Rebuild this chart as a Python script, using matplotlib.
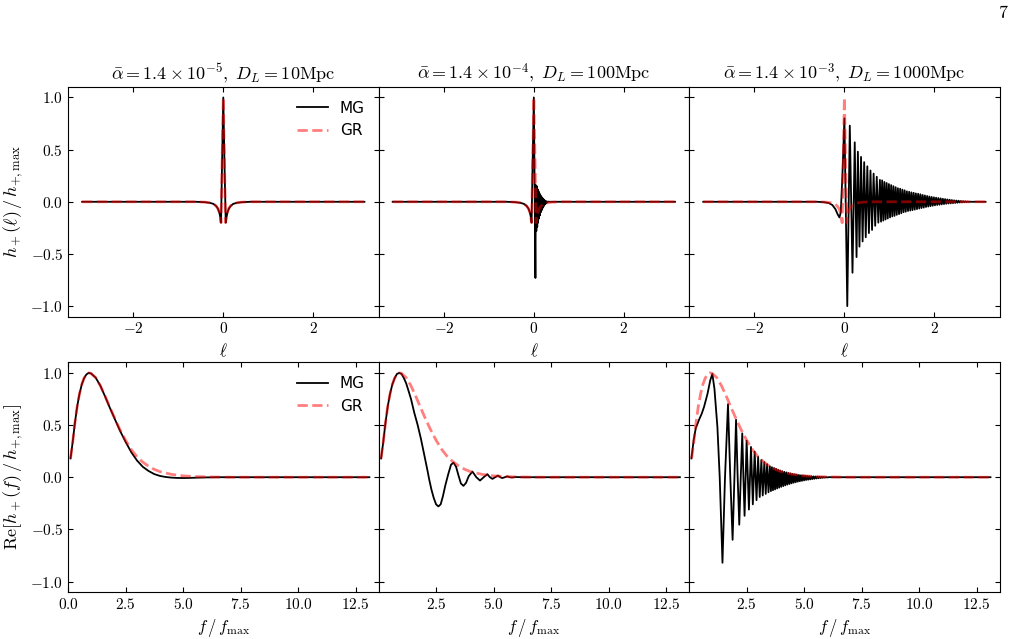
"""
MG vs GR waveforms -- time domain (top) and frequency domain (bottom)
"""

import numpy as np
import matplotlib
matplotlib.use("Agg")
import matplotlib.pyplot as plt
import matplotlib.ticker as mticker

plt.rcParams["mathtext.fontset"] = "cm"

# ── data ─────────────────────────────────────────────────────────────────────
titles = [r"$\bar{\alpha}=1.4\times10^{-5},\ D_L=10\mathrm{Mpc}$",
          r"$\bar{\alpha}=1.4\times10^{-4},\ D_L=100\mathrm{Mpc}$",
          r"$\bar{\alpha}=1.4\times10^{-3},\ D_L=1000\mathrm{Mpc}$"]

# top row: (ell, h/hmax)
gr_top = [(-3.14, 0), (-0.6, 0), (-0.4, -0.004), (-0.3, -0.01), (-0.22, -0.02),
          (-0.16, -0.04), (-0.12, -0.065), (-0.09, -0.1), (-0.07, -0.14),
          (-0.05, -0.2), (-0.03, 0.3), (0.0, 1.0), (0.03, 0.3), (0.05, -0.2),
          (0.07, -0.14), (0.09, -0.1), (0.12, -0.065), (0.16, -0.04),
          (0.22, -0.02), (0.3, -0.01), (0.4, -0.004), (0.6, 0), (3.14, 0)]

mg_top_1 = [(-3.14, 0), (-0.6, 0), (-0.4, -0.004), (-0.3, -0.01), (-0.22, -0.02),
            (-0.16, -0.04), (-0.12, -0.065), (-0.09, -0.1), (-0.07, -0.14),
            (-0.05, -0.2), (-0.03, 0.3), (0.0, 1.0), (0.03, 0.3), (0.055, -0.2),
            (0.075, -0.14), (0.095, -0.1), (0.125, -0.065), (0.165, -0.04),
            (0.22, -0.02), (0.3, -0.01), (0.4, -0.004), (0.6, 0), (3.14, 0)]

mg_top_2 = [(-3.14, 0), (-0.6, 0), (-0.4, -0.004), (-0.3, -0.01), (-0.22, -0.02),
            (-0.16, -0.04), (-0.12, -0.065), (-0.09, -0.1), (-0.07, -0.14),
            (-0.05, -0.2), (-0.03, 0.3), (0.0, 1.0), (0.035, -0.73), (0.045, 0.16),
            (0.055, -0.28), (0.065, 0.15), (0.075, -0.24), (0.085, 0.12),
            (0.095, -0.2), (0.105, 0.1), (0.115, -0.16), (0.125, 0.08),
            (0.135, -0.13), (0.145, 0.065), (0.155, -0.1), (0.165, 0.05),
            (0.175, -0.08), (0.185, 0.04), (0.195, -0.06), (0.205, 0.03),
            (0.215, -0.045), (0.225, 0.02), (0.235, -0.03), (0.245, 0.012),
            (0.26, -0.018), (0.275, 0.006), (0.29, -0.008), (0.31, 0.002),
            (0.35, 0), (3.14, 0)]

mg_top_3 = [(-3.14, 0), (-0.6, 0), (-0.45, -0.004), (-0.35, -0.012), (-0.27, -0.03),
            (-0.2, -0.07), (-0.15, -0.12), (-0.11, -0.15), (-0.08, -0.1),
            (-0.04, 0.3), (0.0, 0.8), (0.064, -1.0), (0.12, 0.73), (0.18, -0.68),
            (0.23, 0.57), (0.27, -0.53), (0.30, 0.48), (0.335, -0.43), (0.37, 0.43),
            (0.405, -0.38), (0.44, 0.38), (0.475, -0.34), (0.51, 0.34), (0.545, -0.30),
            (0.58, 0.30), (0.615, -0.27), (0.65, 0.27), (0.685, -0.23), (0.72, 0.24),
            (0.755, -0.2), (0.79, 0.21), (0.815, -0.19), (0.84, 0.205), (0.865, -0.18),
            (0.89, 0.19), (0.915, -0.17), (0.94, 0.18), (0.965, -0.16), (0.99, 0.17),
            (1.015, -0.15), (1.04, 0.16), (1.065, -0.14), (1.09, 0.15), (1.115, -0.135),
            (1.14, 0.14), (1.165, -0.125), (1.19, 0.13), (1.215, -0.118), (1.24, 0.125),
            (1.265, -0.11), (1.29, 0.117), (1.315, -0.1), (1.34, 0.11), (1.365, -0.095),
            (1.39, 0.1), (1.415, -0.088), (1.44, 0.096), (1.465, -0.084), (1.49, 0.09),
            (1.515, -0.08), (1.54, 0.086), (1.565, -0.075), (1.59, 0.08), (1.615, -0.07),
            (1.64, 0.077), (1.665, -0.065), (1.69, 0.072), (1.715, -0.06), (1.74, 0.066),
            (1.765, -0.056), (1.79, 0.061), (1.815, -0.05), (1.84, 0.056), (1.865, -0.046),
            (1.89, 0.051), (1.915, -0.042), (1.94, 0.047), (1.965, -0.038), (1.99, 0.043),
            (2.015, -0.034), (2.04, 0.04), (2.065, -0.031), (2.09, 0.036), (2.115, -0.028),
            (2.14, 0.033), (2.165, -0.025), (2.19, 0.029), (2.215, -0.022), (2.24, 0.026),
            (2.265, -0.019), (2.29, 0.023), (2.315, -0.017), (2.34, 0.02), (2.365, -0.015),
            (2.39, 0.017), (2.415, -0.013), (2.44, 0.014), (2.465, -0.011), (2.49, 0.012),
            (2.515, -0.009), (2.54, 0.01), (2.565, -0.007), (2.59, 0.008), (2.615, -0.006),
            (2.64, 0.006), (2.665, -0.004), (2.69, 0.004), (2.715, -0.003), (2.74, 0.002),
            (2.765, -0.001), (2.8, 0), (3.14, 0)]

# bottom row: (f/fmax, Re[h/hmax])
gr_bot = [(0.11, 0.18), (0.2, 0.33), (0.3, 0.52), (0.4, 0.68), (0.5, 0.8),
          (0.6, 0.89), (0.7, 0.95), (0.8, 0.985), (0.9, 1.0), (1.0, 0.995),
          (1.2, 0.955), (1.4, 0.88), (1.6, 0.785), (1.8, 0.68), (2.0, 0.58),
          (2.25, 0.46), (2.5, 0.355), (2.75, 0.265), (3.0, 0.195), (3.25, 0.145),
          (3.5, 0.105), (3.75, 0.075), (4.0, 0.053), (4.5, 0.027), (5.0, 0.013),
          (5.5, 0.006), (6.0, 0.003), (6.5, 0.001), (7.0, 0.0), (13.1, 0.0)]

mg_bot_1 = [(0.11, 0.18), (0.2, 0.33), (0.3, 0.52), (0.4, 0.68), (0.5, 0.8),
            (0.6, 0.89), (0.7, 0.95), (0.8, 0.985), (0.9, 1.0), (1.0, 0.995),
            (1.2, 0.955), (1.4, 0.88), (1.6, 0.78), (1.8, 0.675), (2.0, 0.575),
            (2.25, 0.45), (2.5, 0.34), (2.75, 0.24), (3.0, 0.16), (3.25, 0.1),
            (3.5, 0.06), (3.75, 0.03), (4.0, 0.012), (4.25, 0.002), (4.5, -0.004),
            (4.75, -0.007), (5.0, -0.008), (5.25, -0.007), (5.5, -0.005),
            (6.0, -0.002), (6.5, 0), (13.1, 0)]

mg_bot_2 = [(0.11, 0.18), (0.2, 0.33), (0.3, 0.52), (0.4, 0.68), (0.5, 0.8),
            (0.6, 0.89), (0.7, 0.95), (0.8, 0.99), (0.9, 1.0), (1.0, 0.99),
            (1.1, 0.95), (1.2, 0.9), (1.3, 0.83), (1.41, 0.75), (1.55, 0.62),
            (1.7, 0.5), (1.84, 0.37), (2.0, 0.2), (2.13, 0.06), (2.2, -0.02),
            (2.3, -0.12), (2.4, -0.2), (2.5, -0.26), (2.6, -0.28), (2.7, -0.26),
            (2.8, -0.18), (2.9, -0.08), (3.03, 0.03), (3.15, 0.12), (3.26, 0.14),
            (3.37, 0.1), (3.47, 0.02), (3.58, -0.06), (3.69, -0.083), (3.8, -0.055),
            (3.92, 0.01), (4.08, 0.054), (4.25, 0.0), (4.41, -0.032), (4.57, 0.0),
            (4.73, 0.029), (4.84, 0.0), (4.95, -0.016), (5.07, 0.0), (5.19, 0.016),
            (5.29, 0.0), (5.38, -0.008), (5.49, 0.0), (5.6, 0.008), (5.7, 0.0),
            (5.8, -0.003), (5.95, 0.002), (6.2, 0.0), (13.1, 0)]

mg_bot_3 = [(0.1, 0.18), (0.2, 0.36), (0.29, 0.47), (0.43, 0.55), (0.55, 0.61),
            (0.65, 0.675), (0.8, 0.8), (0.92, 0.93), (1.01, 0.99), (1.1, 0.85),
            (1.23, 0.48), (1.33, 0.0), (1.45, -0.82), (1.56, 0.0), (1.69, 0.7),
            (1.79, 0.0), (1.89, -0.6), (1.97, 0.0), (2.04, 0.55), (2.11, 0.0),
            (2.18, -0.455), (2.245, 0.0), (2.31, 0.42), (2.36, 0.0), (2.41, -0.37),
            (2.5, 0.35), (2.6, -0.31), (2.69, 0.29), (2.77, -0.26), (2.85, 0.245),
            (2.93, -0.22), (3.0, 0.195), (3.07, -0.19), (3.14, 0.165), (3.2, -0.175),
            (3.27, 0.145), (3.33, -0.16), (3.39, 0.125), (3.45, -0.145), (3.51, 0.105),
            (3.555, -0.133), (3.6, 0.096), (3.645, -0.125), (3.69, 0.088),
            (3.735, -0.117), (3.78, 0.08), (3.825, -0.108), (3.87, 0.072),
            (3.915, -0.1), (3.96, 0.064), (4.005, -0.092), (4.05, 0.057),
            (4.095, -0.085), (4.14, 0.051), (4.185, -0.078), (4.23, 0.046),
            (4.275, -0.071), (4.32, 0.041), (4.365, -0.065), (4.41, 0.036),
            (4.455, -0.059), (4.5, 0.032), (4.545, -0.053), (4.59, 0.028),
            (4.635, -0.048), (4.68, 0.025), (4.725, -0.043), (4.77, 0.022),
            (4.815, -0.039), (4.86, 0.019), (4.905, -0.035), (4.95, 0.017),
            (4.995, -0.031), (5.04, 0.015), (5.085, -0.027), (5.13, 0.013),
            (5.175, -0.024), (5.22, 0.011), (5.265, -0.021), (5.31, 0.009),
            (5.355, -0.018), (5.4, 0.008), (5.445, -0.015), (5.49, 0.007),
            (5.535, -0.012), (5.58, 0.006), (5.625, -0.01), (5.67, 0.005),
            (5.715, -0.008), (5.76, 0.004), (5.805, -0.006), (5.85, 0.003),
            (5.9, -0.004), (5.95, 0.002), (6.0, -0.002), (6.1, 0.001), (6.2, 0),
            (13.1, 0)]

mg_top = [mg_top_1, mg_top_2, mg_top_3]
mg_bot = [mg_bot_1, mg_bot_2, mg_bot_3]

yticks = [-1.0, -0.5, 0.0, 0.5, 1.0]
top_xticks = [-2, 0, 2]
bot_xticks_first = [0.0, 2.5, 5.0, 7.5, 10.0, 12.5]
bot_xticks_rest = [2.5, 5.0, 7.5, 10.0, 12.5]


# ── figure ───────────────────────────────────────────────────────────────────
fig, axes = plt.subplots(2, 3, figsize=(10.18, 6.39), dpi=100, sharey=True)
fig.subplots_adjust(left=0.0668, right=0.982, top=0.8638, bottom=0.0736,
                    wspace=0, hspace=0.2)

fmt1 = mticker.FuncFormatter(lambda v, _: f"${v:.1f}$")
fmt0 = mticker.FuncFormatter(lambda v, _: f"${v:.0f}$")


def draw(ax, mg, gr):
    mx, my = np.array(mg).T
    gx, gy = np.array(gr).T
    ax.plot(mx, my, color="black", lw=1.3, label="MG")
    ax.plot(gx, gy, color="red", ls="--", lw=2, alpha=0.5, label="GR")
    ax.tick_params(direction="in", top=True, right=True, labelsize=11)
    ax.set_ylim(-1.1, 1.1)
    ax.set_yticks(yticks)
    ax.yaxis.set_major_formatter(fmt1)


for j in range(3):
    ax = axes[0, j]
    draw(ax, mg_top[j], gr_top)
    ax.set_title(titles[j], fontsize=13)
    ax.set_xticks(top_xticks)
    ax.xaxis.set_major_formatter(fmt0)
    ax.set_xlabel(r"$\ell$", fontsize=12)

    ax = axes[1, j]
    draw(ax, mg_bot[j], gr_bot)
    ax.set_xlim(0, 13.5)
    ax.set_xticks(bot_xticks_first if j == 0 else bot_xticks_rest)
    ax.xaxis.set_major_formatter(fmt1)
    ax.set_xlabel(r"$f\,/\,f_\mathrm{max}$", fontsize=12)

axes[0, 0].set_ylabel(r"$h_+(\ell)\,/\,h_{+,\mathrm{max}}$", fontsize=13)
axes[1, 0].set_ylabel(r"$\mathrm{Re}[\tilde{h}_+(f)\,/\,\tilde{h}_{+,\mathrm{max}}]$",
                      fontsize=13)

for ax in axes[:, 0]:
    ax.legend(loc="upper right", frameon=False, fontsize=11)

fig.text(1003 / 1018, 1 - 13 / 639, "$7$", ha="center", va="center", fontsize=13)

plt.savefig("out.png", dpi=100)
plt.close()
